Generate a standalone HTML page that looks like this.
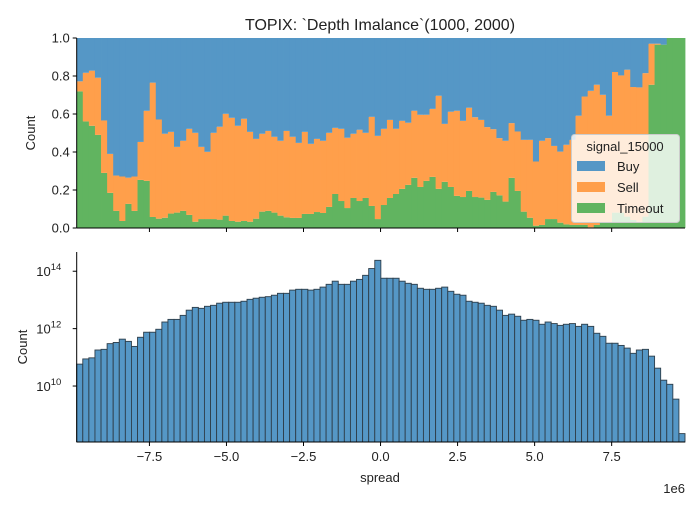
<!DOCTYPE html>
<html><head><meta charset="utf-8">
<style>
body{margin:0;background:#fff;position:relative;}
svg text{font-family:"Liberation Sans","DejaVu Sans",sans-serif;fill:#222;}
</style></head>
<body>
<svg id="fig" width="700" height="500" xmlns="http://www.w3.org/2000/svg">
<text x="380" y="30" font-size="16" text-anchor="middle">TOPIX: `Depth Imalance`(1000, 2000)</text>
<g id="topChart"></g>
<g id="botChart"></g>
</svg>
<script>
const timeoutFrac=[0.719,0.561,0.538,0.490,0.290,0.185,0.090,0.037,0.127,0.090,0.253,0.248,0.058,0.049,0.054,0.076,0.081,0.090,0.069,0.033,0.047,0.047,0.047,0.044,0.065,0.037,0.033,0.037,0.033,0.049,0.086,0.090,0.081,
0.065,0.056,0.053,0.053,0.074,0.074,0.084,0.079,0.111,0.179,0.142,0.105,0.158,0.142,0.158,0.116,0.047,0.121,0.158,0.179,0.206,0.227,0.264,0.216,0.248,0.269,0.206,0.243,0.216,0.169,0.163,0.195,
0.163,0.160,0.148,0.190,0.172,0.139,0.264,0.195,0.086,0.054,0.012,0.016,0.047,0.047,0.028,0.019,0.016,0.016,0.016,0.004,0.016,0.028,0.028,0.081,0.081,0.060,0.042,0.033,0.060,0.754,0.965,0.965,1,1,1];
const sellTop=[0.772,0.817,0.828,0.791,0.566,0.390,0.276,0.271,0.265,0.271,0.453,0.617,0.765,0.571,0.496,0.506,0.427,0.459,0.522,0.501,0.427,0.401,0.501,0.533,0.601,0.580,0.538,0.575,0.506,0.469,0.496,0.511,0.480,
0.459,0.511,0.480,0.448,0.506,0.443,0.469,0.459,0.501,0.527,0.522,0.475,0.496,0.517,0.501,0.585,0.485,0.522,0.569,0.522,0.564,0.554,0.617,0.596,0.596,0.627,0.696,0.548,0.612,0.617,0.564,0.633,
0.583,0.569,0.531,0.520,0.473,0.459,0.552,0.508,0.464,0.464,0.350,0.459,0.473,0.432,0.402,0.438,0.464,0.591,0.692,0.722,0.754,0.701,0.591,0.821,0.803,0.833,0.742,0.740,0.815,0.970,0.970,0.965,1,1,1];
const sellFrac=sellTop.map((v,i)=>v-timeoutFrac[i]);
const buyFrac=sellTop.map(v=>1-v);
const counts=[5.8e10,8.8e10,9.6e10,1.8e11,1.9e11,3.0e11,3.3e11,4.3e11,3.6e11,2.4e11,5.0e11,7.5e11,7.5e11,9.5e11,1.7e12,2.1e12,2.1e12,2.9e12,4.4e12,5.5e12,5.1e12,6.0e12,6.5e12,7.7e12,8.3e12,8.3e12,8.3e12,9.0e12,1.05e13,1.15e13,1.24e13,1.3e13,1.46e13,1.7e13,1.7e13,2.2e13,2.35e13,2.35e13,2.2e13,2.35e13,2.8e13,3.5e13,4.5e13,3.5e13,3.5e13,4.5e13,5.2e13,7.2e13,1.24e14,2.4e14,
5.7e13,5.7e13,5.7e13,4.5e13,3.8e13,3.5e13,2.55e13,2.35e13,2.35e13,2.55e13,2.8e13,2.0e13,1.58e13,1.46e13,9.0e12,8.3e12,7.7e12,6.5e12,6.0e12,4.4e12,2.9e12,3.2e12,2.7e12,1.96e12,2.1e12,1.96e12,1.42e12,1.7e12,1.5e12,1.3e12,1.42e12,1.5e12,1.2e12,1.42e12,1.2e12,6.9e11,5.4e11,3.1e11,3.1e11,2.6e11,2.1e11,1.38e11,1.8e11,1.9e11,1.1e11,4.2e10,1.6e10,1.15e10,3.5e9,2.2e8];
const xTicks=[-7.5,-5.0,-2.5,0.0,2.5,5.0,7.5];
const fracTicks=[0,0.2,0.4,0.6,0.8,1.0];
const logTicks=[10,12,14];
const X0=-9.86, X1=9.88, NB=100;
const L=76.7,R=685;
const xs=v=>L+(v-X0)/(X1-X0)*(R-L);
const T0=38,T1=228; const yTop=f=>T1-f*(T1-T0);
const B0=252,B1=442; const LOGMIN=8.05,LOGMAX=14.67;
const yBot=c=>B1-(Math.log10(c)-LOGMIN)/(LOGMAX-LOGMIN)*(B1-B0);
const NS='http://www.w3.org/2000/svg';
function mk(tag,attrs,parent){const e=document.createElementNS(NS,tag);for(const k in attrs)e.setAttribute(k,attrs[k]);parent.appendChild(e);return e;}
const gTop=document.getElementById('topChart'), gBot=document.getElementById('botChart');
const bw=(X1-X0)/NB;
const C={buy:'#5597c6',sell:'#ff9f4b',to:'#61b460'};
for(let i=0;i<NB;i++){
  const xa=xs(X0+i*bw), xb=xs(X0+(i+1)*bw);
  const segs=[[0,timeoutFrac[i],C.to,'timeout'],[timeoutFrac[i],timeoutFrac[i]+sellFrac[i],C.sell,'sell'],[timeoutFrac[i]+sellFrac[i],timeoutFrac[i]+sellFrac[i]+buyFrac[i],C.buy,'buy']];
  for(const s of segs){
    if(s[1]-s[0]<=0)continue;
    const r=mk('rect',{x:xa,y:yTop(s[1]),width:xb-xa+0.4,height:yTop(s[0])-yTop(s[1]),fill:s[2]},gTop);
    
    
  }
  const yb=yBot(counts[i]);
  const b=mk('rect',{x:xa,y:yb,width:xb-xa,height:B1-yb,fill:'#5597c6',stroke:'#2e3e4a','stroke-width':0.9},gBot);
  
  
}
mk('line',{x1:L,y1:T0,x2:L,y2:T1,stroke:'#000','stroke-width':1},gTop);
mk('line',{x1:L,y1:T1,x2:R,y2:T1,stroke:'#000','stroke-width':1},gTop);
mk('line',{x1:L,y1:B0,x2:L,y2:B1,stroke:'#000','stroke-width':1},gBot);
mk('line',{x1:L,y1:B1,x2:R,y2:B1,stroke:'#000','stroke-width':1},gBot);
for(const f of fracTicks){
  const y=yTop(f);
  mk('line',{x1:L-4,y1:y,x2:L,y2:y,stroke:'#000'},gTop);
  const t=mk('text',{x:L-7,y:y+4.5,'font-size':13,'text-anchor':'end'},gTop);t.textContent=f.toFixed(1);
  
  
}
for(const v of xTicks){
  const x=xs(v);
  mk('line',{x1:x,y1:T1,x2:x,y2:T1+4,stroke:'#000'},gTop);
  mk('line',{x1:x,y1:B1,x2:x,y2:B1+4,stroke:'#000'},gBot);
  const t=mk('text',{x:x,y:B1+19,'font-size':13,'text-anchor':'middle'},gBot);t.textContent=(v<0?'\u2212':'')+Math.abs(v).toFixed(1);
  
  
}
for(const k of logTicks){
  const y=yBot(Math.pow(10,k));
  mk('line',{x1:L-4,y1:y,x2:L,y2:y,stroke:'#000'},gBot);
  const t=mk('text',{x:L-26,y:y+5,'font-size':13,'text-anchor':'end'},gBot);t.textContent='10';
  
  
  const s=mk('text',{x:L-26,y:y-1,'font-size':9.5,'text-anchor':'start'},gBot);s.textContent=String(k);
  
  
}
</script>
<svg width="700" height="500" style="position:absolute;left:0;top:0" xmlns="http://www.w3.org/2000/svg">
<text x="35" y="133" font-size="13" text-anchor="middle" transform="rotate(-90 35 133)">Count</text>
<text x="27" y="347" font-size="13" text-anchor="middle" transform="rotate(-90 27 347)">Count</text>
<text x="380" y="482" font-size="13" text-anchor="middle">spread</text>
<text x="685" y="493" font-size="13" text-anchor="end">1e6</text>
<g>
<rect x="571.5" y="134.5" width="108" height="88" rx="3" fill="#fff" fill-opacity="0.8" stroke="#ccc"/>
<text x="625" y="151" font-size="13" text-anchor="middle">signal_15000</text>
<rect x="577" y="161" width="28" height="10" fill="#5597c6"/>
<text x="617" y="171" font-size="13">Buy</text>
<rect x="577" y="182" width="28" height="10" fill="#ff9f4b"/>
<text x="617" y="192" font-size="13">Sell</text>
<rect x="577" y="203" width="28" height="10" fill="#61b460"/>
<text x="617" y="213" font-size="13">Timeout</text>
</g>
</svg>
</body></html>
